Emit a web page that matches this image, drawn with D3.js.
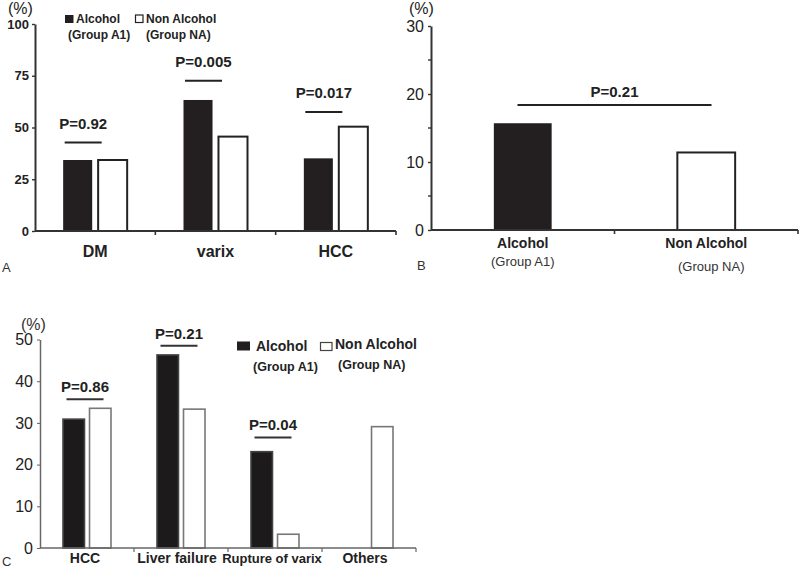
<!DOCTYPE html>
<html><head><meta charset="utf-8">
<script src="https://cdn.jsdelivr.net/npm/d3@7"></script>
<style>
body{margin:0;background:#fff;}
svg{font-family:"Liberation Sans",Arial,sans-serif;}
</style></head>
<body>
<svg id="c" width="800" height="570"></svg>
<script>
// ---------- DATA ----------
// Panel A
const catsA = ["DM", "varix", "HCC"];
const alcoholA = [34.3, 63.3, 35.1];
const nonAlcoholA = [34.3, 45.6, 50.4];
const pTextA = ["P=0.92", "P=0.005", "P=0.017"];
const pLevelA = [42.7, 72.6, 57.5];
const ticksA = [0, 25, 50, 75, 100];
// Panel B
const catsB = ["Alcohol", "Non Alcohol"];
const subB = ["(Group A1)", "(Group NA)"];
const valuesB = [15.7, 11.4];
const pTextB = "P=0.21";
const pLevelB = 18.4;
const ticksB = [0, 10, 20, 30];
const minorTicksB = [5, 15, 25];
// Panel C
const catsC = ["HCC", "Liver failure", "Rupture of varix", "Others"];
const alcoholC = [30.9, 46.3, 23.1, 0];
const nonAlcoholC = [33.5, 33.3, 3.3, 29.1];
const pTextC = ["P=0.86", "P=0.21", "P=0.04", null];
const pLevelC = [35.7, 48.5, 26.5, null];
const ticksC = [0, 10, 20, 30, 40, 50];
const legendLabels = ["Alcohol", "Non Alcohol"];
const legendSubs = ["(Group A1)", "(Group NA)"];

const svg = d3.select("#c");
const BLACK = "#231f20";

function xAxisLine(g, x0, y0px, color, width) {
  const r = x0.range();
  g.append("line").attr("x1", r[0]).attr("x2", r[1]).attr("y1", y0px).attr("y2", y0px)
    .attr("stroke", color).attr("stroke-width", width);
  const bounds = x0.domain().slice(1).map(d => x0(d)).concat([r[1]]);
  g.selectAll(null).data(bounds).join("line")
    .attr("x1", d => d).attr("x2", d => d).attr("y1", y0px).attr("y2", y0px + 4)
    .attr("stroke", color).attr("stroke-width", width * 0.8);
}

function yAxis(g, y, xpx, ticks, color, width, font, bold, pad) {
  const ax = d3.axisLeft(y).tickValues(ticks).tickSize(3).tickSizeOuter(0).tickPadding(pad);
  const a = g.append("g").attr("transform", `translate(${xpx},0)`).call(ax);
  a.select(".domain").attr("stroke", color).attr("stroke-width", width);
  a.selectAll(".tick line").attr("stroke", color).attr("stroke-width", width * 0.7);
  a.selectAll(".tick text").attr("fill", "#222").style("font-size", font + "px")
    .style("font-weight", bold ? "bold" : "normal").style("font-family", '"Liberation Sans",Arial,sans-serif');
  return a;
}

// ---------- PANEL A ----------
{
  const g = svg.append("g");
  const x0 = d3.scaleBand().domain(catsA).range([35, 396]);
  const y = d3.scaleLinear().domain([0, 100]).range([231, 24]);
  const bw = x0.bandwidth();
  const x1 = d3.scaleBand().domain(["alc", "non"]).range([bw / 2 - 32, bw / 2 + 32]).paddingInner(0.17);

  const bars = catsA.flatMap((c, i) => [
    {c, k: "alc", v: alcoholA[i]}, {c, k: "non", v: nonAlcoholA[i]}]);
  g.selectAll(null).data(bars).join("rect")
    .attr("x", d => x0(d.c) + x1(d.k)).attr("width", x1.bandwidth())
    .attr("y", d => y(d.v)).attr("height", d => y(0) - y(d.v))
    .attr("fill", d => d.k === "alc" ? BLACK : "#fff")
    .attr("stroke", "#222").attr("stroke-width", d => d.k === "alc" ? 0 : 2);

  yAxis(g, y, 35, ticksA, "#333", 2, 13, true, 3);
  xAxisLine(g, x0, y(0), "#333", 2);

  g.selectAll(null).data(catsA).join("text")
    .attr("x", d => x0(d) + bw / 2).attr("y", 257).attr("text-anchor", "middle")
    .style("font-size", "16px").style("font-weight", "bold").attr("fill", "#222").text(d => d);

  // p-value lines
  const lineW = 37;
  catsA.forEach((c, i) => {
    const cx = x0(c) + bw / 2 - 12;
    g.append("line").attr("x1", cx - lineW / 2).attr("x2", cx + lineW / 2)
      .attr("y1", y(pLevelA[i])).attr("y2", y(pLevelA[i])).attr("stroke", "#222").attr("stroke-width", 2);
    g.append("text").attr("x", cx).attr("y", y(pLevelA[i]) - 14).attr("text-anchor", "middle")
      .style("font-size", "15px").style("font-weight", "bold").attr("fill", "#222").text(pTextA[i]);
  });

  g.append("text").attr("x", 8).attr("y", 14).style("font-size", "16px").attr("fill", "#222").text("(%)");
  // legend
  const lx = [65, 135];
  legendLabels.forEach((t, i) => {
    g.append("rect").attr("x", lx[i] + (i ? 0.5 : 0)).attr("y", 15).attr("width", i ? 7.5 : 8.5).attr("height", i ? 7.5 : 8)
      .attr("fill", i ? "#fff" : BLACK).attr("stroke", i ? "#222" : "none").attr("stroke-width", 1.2);
    g.append("text").attr("x", lx[i] + 11).attr("y", 23).style("font-size", "12px").style("font-weight", "bold")
      .attr("fill", "#222").text(t);
  });
  [68, 146].forEach((x, i) => g.append("text").attr("x", x).attr("y", 39).style("font-size", "12px")
    .style("font-weight", "bold").attr("fill", "#222").text(legendSubs[i]));
  g.append("text").attr("x", 2).attr("y", 272).style("font-size", "13px").attr("fill", "#333").text("A");
}

// ---------- PANEL B ----------
{
  const g = svg.append("g");
  const x0 = d3.scaleBand().domain(catsB).range([431, 798]);
  const y = d3.scaleLinear().domain([0, 30]).range([230, 26]);
  const bw = x0.bandwidth();
  const barW = bw * 0.315;
  g.selectAll(null).data(catsB).join("rect")
    .attr("x", (d) => x0(d) + bw / 2 - barW / 2).attr("width", barW)
    .attr("y", (d, i) => y(valuesB[i])).attr("height", (d, i) => y(0) - y(valuesB[i]))
    .attr("fill", (d, i) => i === 0 ? BLACK : "#fff")
    .attr("stroke", "#222").attr("stroke-width", (d, i) => i === 0 ? 0 : 2);

  yAxis(g, y, 431, ticksB, "#333", 2, 16, false, 4);
  g.selectAll(null).data(minorTicksB).join("line")
    .attr("x1", 428).attr("x2", 431).attr("y1", d => y(d)).attr("y2", d => y(d))
    .attr("stroke", "#333").attr("stroke-width", 1.4);
  xAxisLine(g, x0, y(0), "#333", 2);

  g.selectAll(null).data(catsB).join("text")
    .attr("x", d => x0(d) + bw / 2).attr("y", 248).attr("text-anchor", "middle")
    .style("font-size", "14px").style("font-weight", "bold").attr("fill", "#222").text(d => d);
  g.selectAll(null).data(subB).join("text")
    .attr("x", (d, i) => x0(catsB[i]) + bw / 2 + (i ? 5 : 0)).attr("y", (d, i) => i ? 271 : 266).attr("text-anchor", "middle")
    .style("font-size", "13px").attr("fill", "#333").text(d => d);

  const cx = (x0.range()[0] + x0.range()[1]) / 2;
  g.append("line").attr("x1", cx - 97).attr("x2", cx + 97).attr("y1", y(pLevelB)).attr("y2", y(pLevelB))
    .attr("stroke", "#222").attr("stroke-width", 2);
  g.append("text").attr("x", cx).attr("y", y(pLevelB) - 8).attr("text-anchor", "middle")
    .style("font-size", "15px").style("font-weight", "bold").attr("fill", "#222").text(pTextB);
  g.append("text").attr("x", 409).attr("y", 14).style("font-size", "16px").attr("fill", "#222").text("(%)");
  g.append("text").attr("x", 417).attr("y", 270).style("font-size", "13px").attr("fill", "#333").text("B");
}

// ---------- PANEL C ----------
{
  const g = svg.append("g");
  const x0 = d3.scaleBand().domain(catsC).range([40, 416]);
  const y = d3.scaleLinear().domain([0, 50]).range([548, 339.5]);
  const bw = x0.bandwidth();
  const x1 = d3.scaleBand().domain(["alc", "non"]).range([bw / 2 - 24, bw / 2 + 24]).paddingInner(0.19);
  const bars = catsC.flatMap((c, i) => [
    {c, k: "alc", v: alcoholC[i]}, {c, k: "non", v: nonAlcoholC[i]}]).filter(d => d.v > 0);
  g.selectAll(null).data(bars).join("rect")
    .attr("x", d => x0(d.c) + x1(d.k)).attr("width", x1.bandwidth())
    .attr("y", d => y(d.v)).attr("height", d => y(0) - y(d.v))
    .attr("fill", d => d.k === "alc" ? "#1c1a1b" : "#fff")
    .attr("stroke", d => d.k === "alc" ? "#444" : "#777").attr("stroke-width", 1.6);

  yAxis(g, y, 40, ticksC, "#666", 1.5, 16, false, 4);
  xAxisLine(g, x0, y(0), "#666", 1.5);

  g.selectAll(null).data(catsC).join("text")
    .attr("x", d => x0(d) + bw / 2 + (d === "Liver failure" ? -4 : (d === "Rupture of varix" ? -3 : (d === "Others" ? -4 : -2))))
    .attr("y", 563).attr("text-anchor", "middle")
    .style("font-size", d => d === "Rupture of varix" ? "13px" : "14px").style("font-weight", "bold")
    .attr("fill", "#222").text(d => d);

  catsC.forEach((c, i) => {
    if (!pTextC[i]) return;
    const cx = x0(c) + bw / 2 - 2;
    g.append("line").attr("x1", cx - 18.5).attr("x2", cx + 18.5).attr("y1", y(pLevelC[i])).attr("y2", y(pLevelC[i]))
      .attr("stroke", "#333").attr("stroke-width", 2);
    g.append("text").attr("x", cx).attr("y", y(pLevelC[i]) - 7).attr("text-anchor", "middle")
      .style("font-size", "15px").style("font-weight", "bold").attr("fill", "#222").text(pTextC[i]);
  });

  g.append("text").attr("x", 21).attr("y", 330).style("font-size", "16px").attr("fill", "#333").text("(%)");
  // legend
  g.append("rect").attr("x", 237).attr("y", 341.5).attr("width", 13).attr("height", 9).attr("fill", BLACK);
  g.append("text").attr("x", 256).attr("y", 351).style("font-size", "14px").style("font-weight", "bold").attr("fill", "#222").text(legendLabels[0]);
  g.append("rect").attr("x", 320.5).attr("y", 342.5).attr("width", 11.5).attr("height", 8).attr("fill", "#fff")
    .attr("stroke", "#444").attr("stroke-width", 1.2);
  g.append("text").attr("x", 335).attr("y", 349).style("font-size", "14px").style("font-weight", "bold").attr("fill", "#222").text(legendLabels[1]);
  g.append("text").attr("x", 253).attr("y", 371).style("font-size", "12.5px").style("font-weight", "bold").attr("fill", "#222").text(legendSubs[0]);
  g.append("text").attr("x", 338).attr("y", 369).style("font-size", "12.5px").style("font-weight", "bold").attr("fill", "#222").text(legendSubs[1]);
  g.append("text").attr("x", 2).attr("y", 566).style("font-size", "13px").attr("fill", "#333").text("C");
}
</script>
</body></html>
